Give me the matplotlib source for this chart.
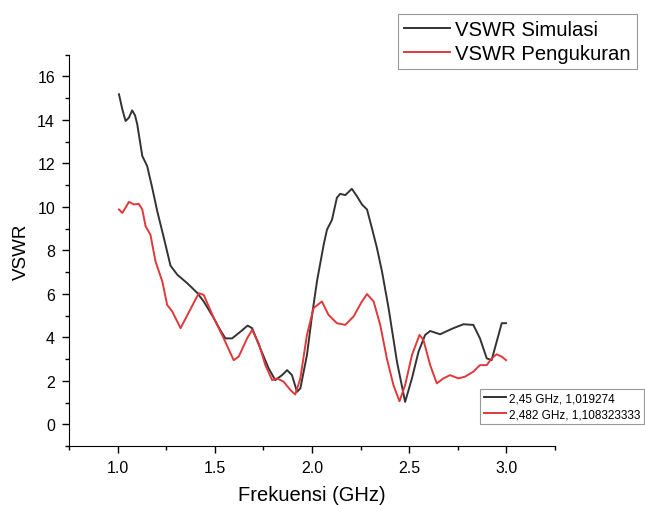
import matplotlib
matplotlib.use('Agg')
import matplotlib.pyplot as plt
from matplotlib.lines import Line2D
from matplotlib.ticker import MultipleLocator

plt.rcParams['font.family'] = ['Liberation Sans', 'DejaVu Sans']

# VSWR hasil simulasi (GHz, VSWR)
freq_sim = [1.007, 1.024, 1.041, 1.058, 1.075, 1.090, 1.101, 1.127, 1.152, 1.178, 1.204,
            1.238, 1.272, 1.307, 1.358, 1.409, 1.443, 1.495, 1.530, 1.555, 1.589, 1.632,
            1.669, 1.692, 1.734, 1.777, 1.811, 1.846, 1.872, 1.897, 1.923, 1.940, 1.974,
            2.000, 2.026, 2.060, 2.077, 2.103, 2.128, 2.145, 2.171, 2.205, 2.231, 2.257,
            2.283, 2.308, 2.334, 2.360, 2.394, 2.437, 2.479, 2.514, 2.548, 2.582, 2.608,
            2.659, 2.727, 2.779, 2.830, 2.864, 2.899, 2.924, 2.950, 2.976, 2.998]
vswr_sim = [15.18, 14.50, 13.95, 14.10, 14.44, 14.20, 13.80, 12.34, 11.88, 10.88, 9.80,
            8.57, 7.30, 6.88, 6.49, 6.05, 5.65, 4.88, 4.30, 3.95, 3.95, 4.26,
            4.54, 4.42, 3.49, 2.57, 2.03, 2.26, 2.49, 2.26, 1.49, 1.65, 3.18,
            5.00, 6.60, 8.26, 8.95, 9.41, 10.42, 10.60, 10.54, 10.83, 10.49, 10.11,
            9.88, 9.03, 8.11, 7.03, 5.34, 2.88, 1.03, 2.11, 3.34, 4.11, 4.29,
            4.14, 4.42, 4.60, 4.57, 3.95, 3.03, 2.95, 3.80, 4.65, 4.65]

# VSWR hasil pengukuran (GHz, VSWR)
freq_ukur = [1.007, 1.024, 1.040, 1.058, 1.084, 1.109, 1.127, 1.144, 1.169, 1.195, 1.230,
             1.255, 1.281, 1.324, 1.375, 1.418, 1.443, 1.495, 1.546, 1.597, 1.623, 1.666,
             1.692, 1.726, 1.760, 1.795, 1.820, 1.854, 1.889, 1.914, 1.940, 1.974, 2.008,
             2.051, 2.085, 2.128, 2.171, 2.214, 2.257, 2.283, 2.317, 2.351, 2.385, 2.419,
             2.450, 2.479, 2.514, 2.553, 2.573, 2.608, 2.642, 2.676, 2.710, 2.753, 2.787,
             2.830, 2.864, 2.899, 2.924, 2.950, 2.976, 2.998]
vswr_ukur = [9.88, 9.72, 9.95, 10.23, 10.11, 10.14, 9.88, 9.11, 8.72, 7.49, 6.57,
             5.49, 5.19, 4.42, 5.30, 6.03, 5.95, 4.88, 3.95, 2.95, 3.11, 3.95,
             4.34, 3.72, 2.72, 2.03, 2.11, 1.96, 1.57, 1.37, 2.11, 4.11, 5.34,
             5.65, 5.03, 4.65, 4.57, 4.96, 5.65, 5.99, 5.65, 4.57, 3.03, 1.80,
             1.06, 1.80, 3.18, 4.11, 3.88, 2.72, 1.88, 2.11, 2.26, 2.11, 2.19,
             2.42, 2.72, 2.72, 3.03, 3.22, 3.11, 2.95]

marker_labels = ['2,45 GHz, 1,019274', '2,482 GHz, 1,108323333']

black = '#333333'
red = '#e0383b'

fig = plt.figure(figsize=(6.45, 5.06), dpi=100)
ax = fig.add_axes([69/645, 1 - 447/506, (555 - 69)/645, (447 - 55.7)/506])

l1, = ax.plot(freq_sim, vswr_sim, color=black, linewidth=1.4)
l2, = ax.plot(freq_ukur, vswr_ukur, color=red, linewidth=1.4)

ax.set_xlim(0.75, 3.25)
ax.set_ylim(-1, 17)
ax.xaxis.set_major_locator(MultipleLocator(0.5))
ax.xaxis.set_minor_locator(MultipleLocator(0.25))
ax.yaxis.set_major_locator(MultipleLocator(2))
ax.yaxis.set_minor_locator(MultipleLocator(1))
ax.spines['top'].set_visible(False)
ax.spines['right'].set_visible(False)
ax.tick_params(which='major', direction='out', length=5, width=1, labelsize=11.5, pad=5)
ax.tick_params(which='minor', direction='out', length=3, width=1)
ax.set_xlabel('Frekuensi (GHz)', fontsize=14.5, labelpad=7)
ax.set_ylabel('VSWR', fontsize=13.5, labelpad=5)

# legend utama
leg1 = fig.legend([l1, l2], ['VSWR Simulasi', 'VSWR Pengukuran'],
                  loc='upper right', bbox_to_anchor=(637/645, 1 - 15/506),
                  fontsize=14.6, frameon=True, fancybox=False, edgecolor='#999999',
                  framealpha=1, handlelength=2.3, handletextpad=0.25,
                  labelspacing=0.25, borderpad=0.3, borderaxespad=0)
leg1.get_frame().set_linewidth(0.8)

# legend marker
h1 = Line2D([], [], color=black, linewidth=1.4)
h2 = Line2D([], [], color=red, linewidth=1.4)
leg2 = ax.legend([h1, h2], marker_labels, loc='upper right',
                 bbox_to_anchor=(644/645, 1 - 390/506), bbox_transform=fig.transFigure,
                 fontsize=8.5, frameon=True, fancybox=False, edgecolor='#999999',
                 framealpha=1, handlelength=1.9, handletextpad=0.25,
                 labelspacing=0.3, borderpad=0.3, borderaxespad=0)
leg2.get_frame().set_linewidth(0.8)

fig.savefig('out.png', dpi=100)
